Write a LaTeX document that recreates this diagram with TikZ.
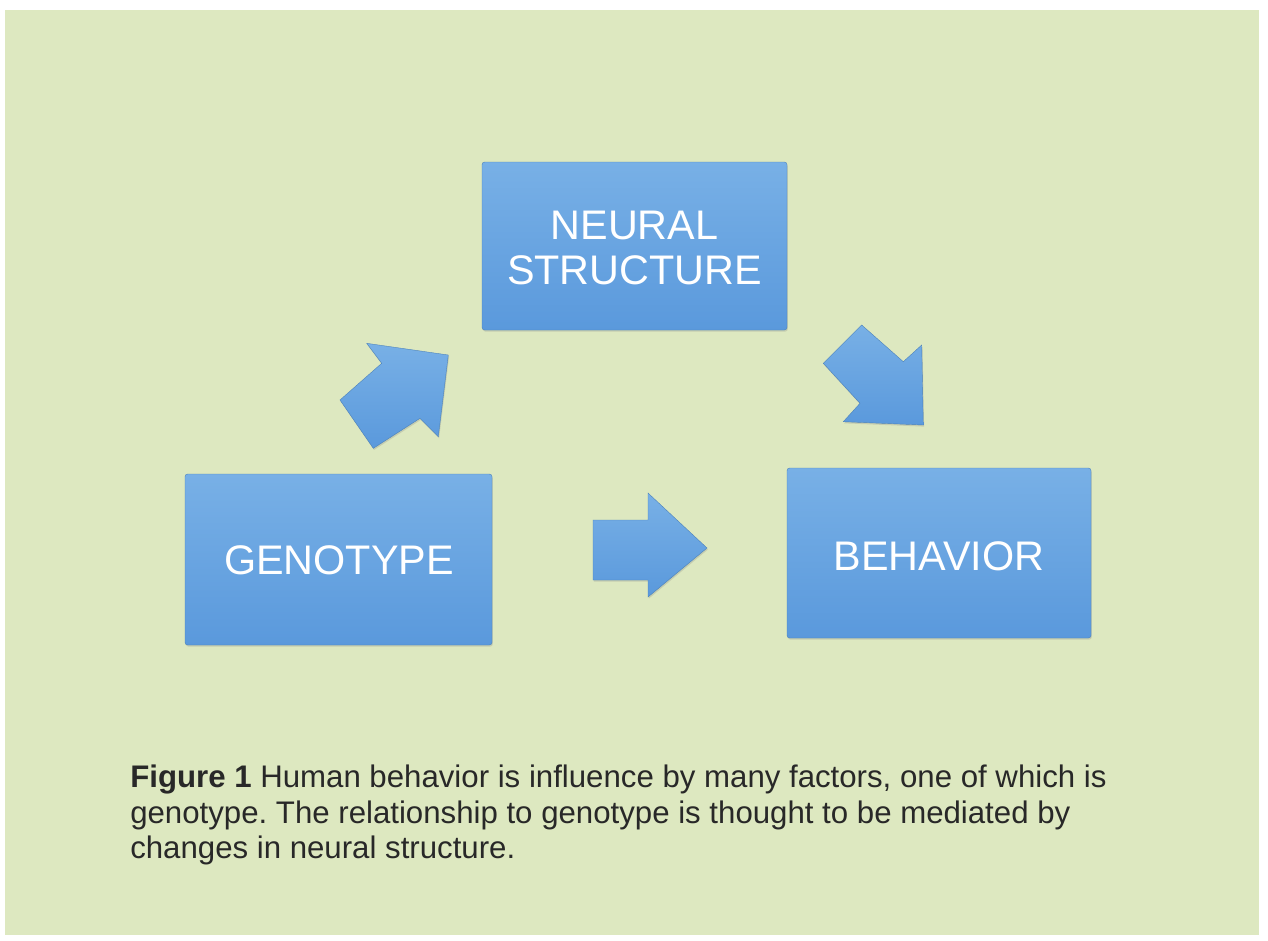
\documentclass[tikz,border=0pt]{standalone}
\usepackage{fontspec}
\setmainfont{Liberation Sans}
\usetikzlibrary{shadings,shadows}
\definecolor{paper}{RGB}{221,232,192}
\definecolor{boxtop}{RGB}{120,176,230}
\definecolor{boxbot}{RGB}{90,153,220}
\definecolor{captxt}{RGB}{40,40,40}
\tikzset{
  blockbox/.style={rounded corners=2pt, top color=boxtop, bottom color=boxbot, draw=boxbot!85!black, line width=0.3pt,
     drop shadow={shadow xshift=0.6pt, shadow yshift=-1.2pt, opacity=0.25}},
  blockarrow/.style={top color=boxtop, bottom color=boxbot, draw=boxbot!85!black, line width=0.3pt,
     drop shadow={shadow xshift=0.6pt, shadow yshift=-1.2pt, opacity=0.25}},
  boxtext/.style={text=white, font=\fontsize{31}{36}\selectfont, align=center},
  captext/.style={text=captxt, font=\fontsize{23.4}{27}\selectfont, anchor=base west, inner sep=0pt}
}
\frenchspacing
\begin{document}
\begin{tikzpicture}[x=0.75pt,y=-0.75pt]
\useasboundingbox (0,0) rectangle (1268,940);
\fill[white] (0,0) rectangle (1268,940);
\fill[paper] (5,10) rectangle (1259,935);
% boxes
\path[blockbox] (482,162) rectangle (787,330);
\node[boxtext] (neural) at (634.5,248) {NEURAL\\[-2pt]STRUCTURE};
\path[blockbox] (185,474) rectangle (492,645);
\node[boxtext] (geno) at (339,560) {GENOTYPE};
\path[blockbox] (787,468) rectangle (1091,638);
\node[boxtext] (behav) at (939,556) {BEHAVIOR};
% block arrows
\path[blockarrow] (366.7,343.3) -- (448.3,355) -- (438.3,436.7) -- (420,418.3) -- (373.3,448.3) -- (340,400) -- (381.7,363.3) -- cycle;
\path[blockarrow] (861.7,325) -- (903.3,361.7) -- (921.7,345) -- (923.3,425) -- (843.3,421.7) -- (860,403.3) -- (823.3,363.3) -- cycle;
\path[blockarrow] (593,520) -- (648,520) -- (648,493) -- (707,548) -- (648,597) -- (648,580) -- (593,580) -- cycle;
% caption
\node[captext] (cap1) at (130,787) {\textbf{Figure 1} Human behavior is influence by many factors, one of which is};
\node[captext] (cap2) at (130,823) {genotype. The relationship to genotype is thought to be mediated by};
\node[captext] (cap3) at (130,858) {changes in neural structure.};
\end{tikzpicture}
\end{document}
